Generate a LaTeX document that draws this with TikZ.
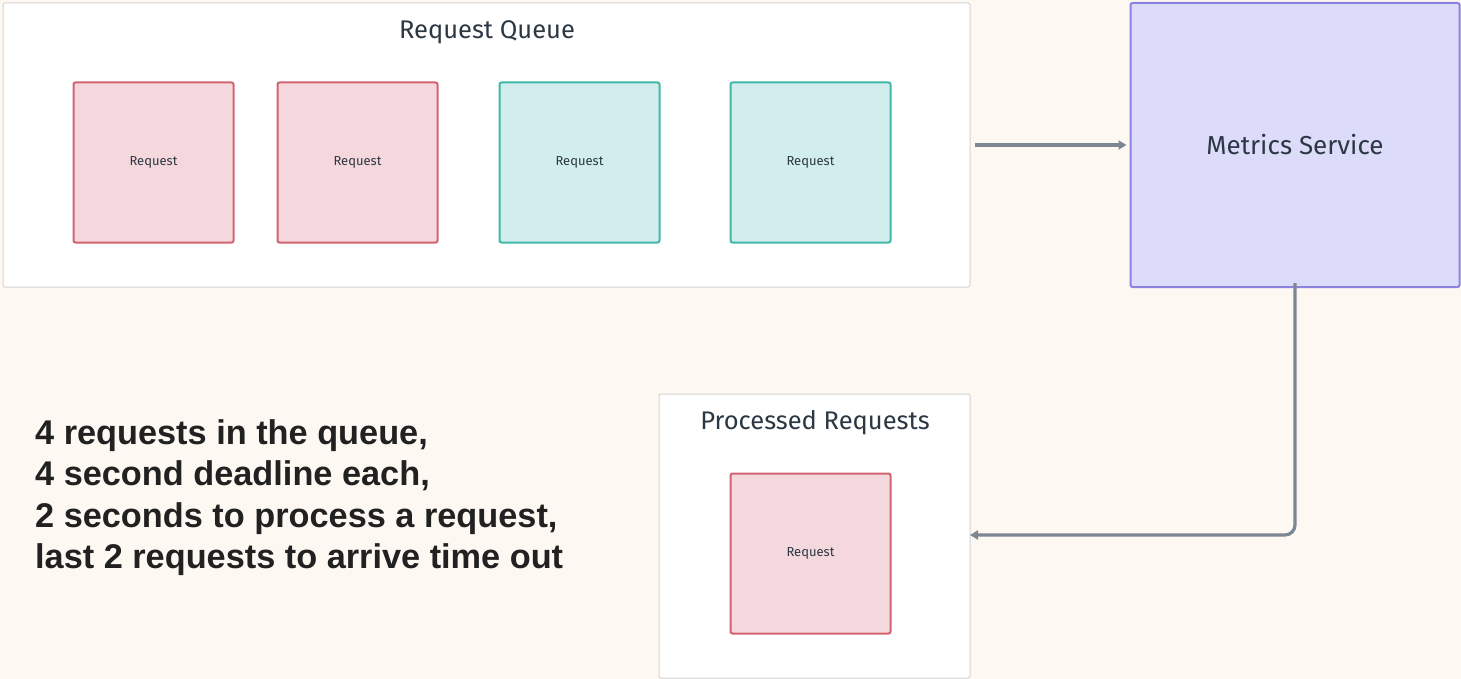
\documentclass[tikz,border=0pt]{standalone}
\usepackage{fontspec}
\setmainfont{Fira Sans}
\newfontfamily\boldarial{Liberation Sans}
\usetikzlibrary{arrows.meta}
\definecolor{bgc}{HTML}{FEF8F2}
\definecolor{redfill}{HTML}{F5D8DD}
\definecolor{redline}{HTML}{D26472}
\definecolor{tealfill}{HTML}{D2EEEC}
\definecolor{tealline}{HTML}{40B8A6}
\definecolor{purpfill}{HTML}{DCDCFA}
\definecolor{purpline}{HTML}{8C82E2}
\definecolor{txt}{HTML}{2B3843}
\definecolor{arrowc}{HTML}{7D8793}
\definecolor{frame}{HTML}{D4D4D4}
\tikzset{
  container/.style={draw=frame, fill=white, line width=1pt, rounded corners=2pt},
  reqred/.style={draw=redline, fill=redfill, line width=2pt, rounded corners=2pt, minimum width=160pt, minimum height=160pt, text=txt, font=\fontsize{13}{15}\selectfont, inner sep=0pt},
  reqteal/.style={reqred, draw=tealline, fill=tealfill},
  conn/.style={draw=arrowc, line width=3.2pt, -{Triangle[length=8pt,width=9pt]}},
  title/.style={text=txt, font=\fontsize{25.5}{30}\selectfont, inner sep=0pt}
}
\begin{document}
\begin{tikzpicture}[x=1pt,y=-1pt]
\fill[bgc] (0,0) rectangle (1461,679);
\useasboundingbox (0,0) rectangle (1461,679);
% queue container
\draw[container] (3,3) rectangle (970,287);
\coordinate (qeast) at (975,145);
\node[title] (qtitle) at (487,32) {Request Queue};
\node[reqred] (r1) at (153.5,162.5) {\raisebox{-2.5pt}{Request}};
\node[reqred] (r2) at (357.5,162.5) {\raisebox{-2.5pt}{Request}};
\node[reqteal] (r3) at (579.5,162.5) {\raisebox{-2.5pt}{Request}};
\node[reqteal] (r4) at (810.5,162.5) {\raisebox{-2.5pt}{Request}};
% metrics service
\node[draw=purpline, fill=purpfill, line width=2pt, rounded corners=2pt, minimum width=329pt, minimum height=284pt, inner sep=0pt, text=txt, font=\fontsize{26}{30}\selectfont] (ms) at (1295,145) {Metrics Service};
% processed container
\draw[container] (659,394) rectangle (970,678);
\coordinate (pe) at (970,535);
\node[title] (ptitle) at (815,423) {Processed Requests};
\node[reqred] (p1) at (810.5,553.5) {\raisebox{-2.5pt}{Request}};
% arrows
\draw[conn] (qeast) -- ([xshift=-3pt]ms.west);
\draw[conn, rounded corners=10pt] ([yshift=5pt]ms.south) |- (pe);
% text
\node[anchor=north west, align=left, text=black!87, font=\boldarial\bfseries\fontsize{34.3}{41.6}\selectfont, inner sep=0pt] (note) at (35,419) {4 requests in the queue,\\4 second deadline each,\\2 seconds to process a request,\\last 2 requests to arrive time out};
\end{tikzpicture}
\end{document}
